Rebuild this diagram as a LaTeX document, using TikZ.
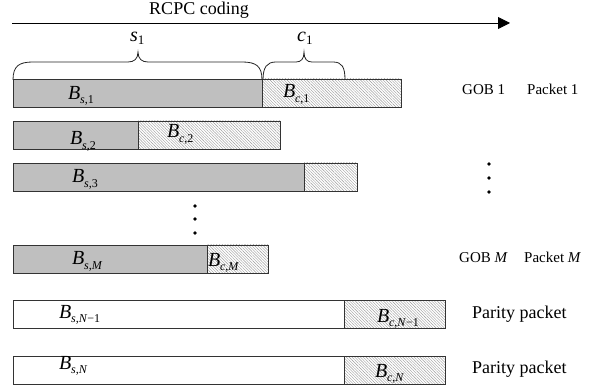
\documentclass[tikz,border=0pt]{standalone}
\usepackage{fontspec}
\setmainfont{Liberation Serif}
\usetikzlibrary{patterns.meta,arrows.meta}
\newcommand\BL[1]{\textit{B}\kern-0.3pt\raisebox{-4.5pt}{\fontsize{12}{12}\selectfont #1}}
\newcommand\SL[2]{\textit{#1}\raisebox{-3pt}{\fontsize{13}{13}\selectfont #2}}
\newcommand\segbox[6]{%
  \node[#2, minimum width=#4pt-#3pt, minimum height=#6pt-#5pt, anchor=north west] (#1) at (#3,#5) {};}
\begin{document}
\begin{tikzpicture}[x=1pt,y=-1pt,
  seg/.style={rectangle, draw=black!80, line width=0.8pt, inner sep=0pt, outer sep=0pt},
  src/.style={seg, fill=black!25},
  wsrc/.style={seg, fill=white},
  chk/.style={seg, pattern={Lines[angle=-45,distance=2pt,line width=0.4pt]}, pattern color=black!40},
  lab/.style={inner sep=0pt, font=\fontsize{20}{22}\selectfont, anchor=base west},
  side/.style={inner sep=0pt, font=\fontsize{15}{18}\selectfont, anchor=base west},
  big/.style={inner sep=0pt, font=\fontsize{18}{21}\selectfont, anchor=base west},
  brc/.style={line width=0.8pt, black!85},
  dot/.style={circle, fill=black, inner sep=0pt, minimum size=3.6pt}]
\useasboundingbox (0,0) rectangle (594,387);

% title arrow
\node[inner sep=0pt, font=\fontsize{18}{21}\selectfont, anchor=base] (title) at (199,15) {RCPC coding};
\coordinate (a0) at (12,23);
\coordinate (a1) at (510,23);
\draw[line width=0.9pt, -{Triangle[length=12pt,width=12pt]}] (a0) -- (a1);

% rows
\segbox{s1}{src}{13}{262}{79}{107}
\segbox{c1}{chk}{262}{401}{79}{107}
\segbox{s2}{src}{13}{138}{121}{149}
\segbox{c2}{chk}{138}{280}{121}{149}
\segbox{s3}{src}{13}{304}{163}{191}
\segbox{c3}{chk}{304}{357}{163}{191}
\segbox{sM}{src}{13}{207}{245}{273}
\segbox{cM}{chk}{207}{268}{245}{273}
\segbox{sN1}{wsrc}{13}{344}{300}{328}
\segbox{cN1}{chk}{344}{445}{300}{328}
\segbox{sN}{wsrc}{13}{344}{356}{384}
\segbox{cN}{chk}{344}{445}{356}{384}

% braces
\draw[brc] (13,80) .. controls (13,66) and (19,62) .. (33,62) -- (128,62)
  .. controls (134,62) and (138,59) .. (138,52)
  .. controls (138,59) and (142,62) .. (148,62) -- (242,62)
  .. controls (256,62) and (262,66) .. (262,80);
\draw[brc] (263,80) .. controls (263,67) and (267,62) .. (276,62) -- (296,62)
  .. controls (301,62) and (304,59) .. (304,52)
  .. controls (304,59) and (307,62) .. (312,62) -- (333,62)
  .. controls (342,62) and (345,67) .. (345,80);
\node[lab] (ls) at (130,42) {\SL{s}{1}};
\node[lab] (lc) at (297,42) {\SL{c}{1}};

% labels in boxes
\node[lab] (ts1) at (68,99.5) {\BL{\textit{s},1}};
\node[lab] (tc1) at (283,98) {\BL{\textit{c},1}};
\node[lab] (ts2) at (70,145) {\BL{\textit{s},2}};
\node[lab] (tc2) at (167,138) {\BL{\textit{c},2}};
\node[lab] (ts3) at (72,183) {\BL{\textit{s},3}};
\node[lab] (tsM) at (72,265) {\BL{\textit{s},\textit{M}}};
\node[lab] (tcM) at (208,266) {\BL{\textit{c},\textit{M}}};
\node[lab] (tsN1) at (59,318) {\BL{\textit{s},\textit{N}−1}};
\node[lab] (tcN1) at (377,322) {\BL{\textit{c},\textit{N}−1}};
\node[lab] (tsN) at (59,369) {\BL{\textit{s},\textit{N}}};
\node[lab] (tcN) at (375,377) {\BL{\textit{c},\textit{N}}};

% side labels
\node[side] (g1) at (462,95) {GOB 1};
\node[side] (p1) at (527,95) {Packet 1};
\node[side] (gM) at (459,262) {GOB \textit{M}};
\node[side] (pM) at (524,262) {Packet \textit{M}};
\node[big] (pp1) at (472,318) {Parity packet};
\node[big] (pp2) at (472,373) {Parity packet};

% dots
\node[dot] (m1) at (195,206) {};
\node[dot] (m2) at (195,219) {};
\node[dot] (m3) at (195,233) {};
\node[dot] (r1) at (489,164) {};
\node[dot] (r2) at (489,178) {};
\node[dot] (r3) at (489,192) {};
\end{tikzpicture}
\end{document}
